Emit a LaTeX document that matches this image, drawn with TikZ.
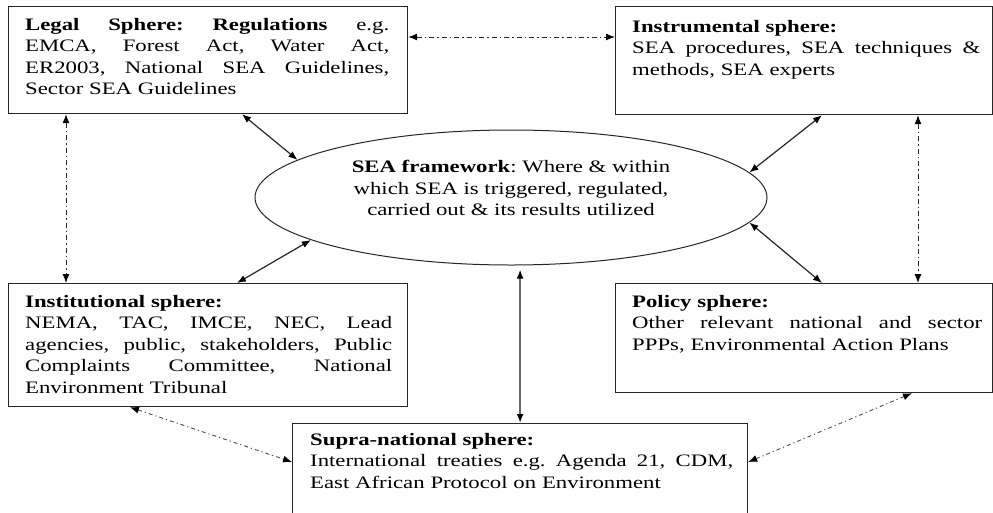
\documentclass[tikz,border=0pt]{standalone}
\usepackage{fontspec}
\setmainfont{Liberation Serif}[FakeStretch=1.3]
\usetikzlibrary{arrows.meta,shapes.geometric}
\frenchspacing
\begin{document}
\begin{tikzpicture}[x=1pt,y=-1pt,
  box/.style={draw=black!85, line width=1.2pt, inner sep=0pt, anchor=north west},
  txt/.style={inner sep=0pt, anchor=north west, text width=#1, align=left,
    font=\fontsize{17.5}{21.5}\selectfont},
  arr/.style={{Latex[length=9pt,width=7pt,color=black]}-{Latex[length=9pt,width=7pt,color=black]}, line width=1.2pt, draw=black!85},
  dd/.style={arr, line width=1pt, dash pattern=on 5pt off 3pt on 1.5pt off 3pt},
  ddl/.style={arr, line width=0.9pt, draw=black!70, dash pattern=on 4pt off 3pt on 1.2pt off 3pt}]
\useasboundingbox (0,0) rectangle (993,512);
\clip (0,0) rectangle (993,512);
\fill[white] (0,0) rectangle (993,512);
\newcommand\jl[1]{\leavevmode\hbox to\hsize{\spaceskip=0pt\xspaceskip=0pt #1}}
% boxes
\node[box, minimum width=399pt, minimum height=107pt] (legal) at (8,6) {};
\node[box, minimum width=377pt, minimum height=108pt] (instr) at (615,6) {};
\node[box, minimum width=399pt, minimum height=123pt] (inst) at (8,283) {};
\node[box, minimum width=377pt, minimum height=109pt] (policy) at (615,283) {};
\node[box, minimum width=455pt, minimum height=130pt] (supra) at (292,423) {};
\node[draw=black!85, line width=1pt, ellipse, minimum width=512pt, minimum height=135pt, inner sep=0pt] (sea) at (511,197.5) {};
% texts
\node[txt=364pt] (legaltxt) at ([xshift=17pt,yshift=-12pt]legal.north west)
 {\jl{\textbf{Legal Sphere: Regulations} e.g.}\\
  \jl{EMCA, Forest Act, Water Act,}\\
  \jl{ER2003, National SEA Guidelines,}\\
  Sector SEA Guidelines};
\node[txt=348pt] (instrtxt) at ([xshift=17pt,yshift=-14pt]instr.north west)
 {\textbf{Instrumental sphere:}\\
  \jl{SEA procedures, SEA techniques \&}\\
  methods, SEA experts};
\node[txt=367pt] (insttxt) at ([xshift=17pt,yshift=-12pt]inst.north west)
 {\textbf{Institutional sphere:}\\
  \jl{NEMA, TAC, IMCE, NEC, Lead}\\
  \jl{agencies, public, stakeholders, Public}\\
  \jl{Complaints Committee, National}\\
  Environment Tribunal};
\node[txt=350pt] (policytxt) at ([xshift=17pt,yshift=-12pt]policy.north west)
 {\textbf{Policy sphere:}\\
  \jl{Other relevant national and sector}\\
  PPPs, Environmental Action Plans};
\node[txt=423pt] (supratxt) at ([xshift=18pt,yshift=-10pt]supra.north west)
 {\textbf{Supra-national sphere:}\\
  \jl{International treaties e.g. Agenda 21, CDM,}\\
  East African Protocol on Environment};
\node[inner sep=0pt, align=center, font=\fontsize{17.5}{21.5}\selectfont] (seatxt) at (511,188)
 {\textbf{SEA framework}: Where \& within\\
  which SEA is triggered, regulated,\\
  carried out \& its results utilized};
% connectors
\draw[dd] ([yshift=-31pt]legal.north east) -- ([yshift=-31pt]instr.north west);
\draw[dd] ([xshift=58pt]legal.south west) -- ([xshift=58pt]inst.north west);
\draw[dd] ([xshift=303pt]instr.south west) -- ([xshift=303pt]policy.north west);
\draw[arr] ([xshift=234pt]legal.south west) -- (sea.170);
\draw[arr] ([xshift=207pt]instr.south west) -- (sea.6);
\draw[arr] ([xshift=229pt]inst.north west) -- (sea.-168);
\draw[arr] ([xshift=207pt]policy.north west) -- (sea.-6.6);
\draw[arr, draw=black!60, line width=2pt, shorten <=4pt] (sea.south -| supra.north) -- (supra.north);
\draw[ddl] ([xshift=122pt]inst.south west) -- ([yshift=-39pt]supra.north west);
\draw[ddl] ([xshift=297pt]policy.south west) -- ([yshift=-39pt]supra.north east);
\end{tikzpicture}
\end{document}
